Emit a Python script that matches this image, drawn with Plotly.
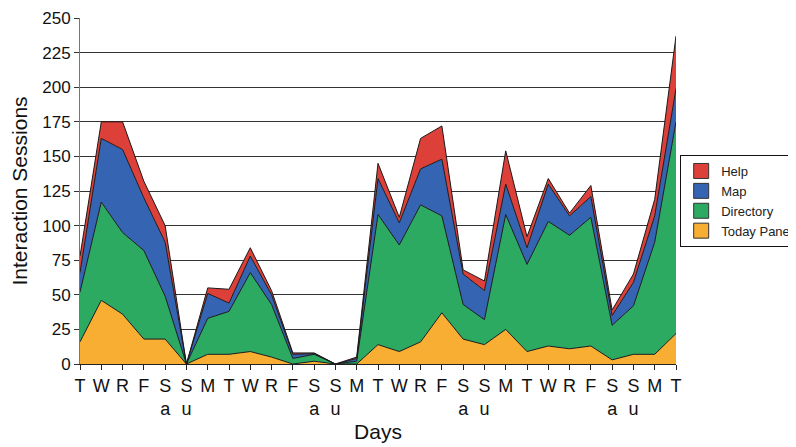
import plotly.graph_objects as go

day_labels = ["T", "W", "R", "F", "S<br>a", "S<br>u", "M", "T", "W", "R", "F", "S<br>a", "S<br>u",
              "M", "T", "W", "R", "F", "S<br>a", "S<br>u", "M", "T", "W", "R", "F", "S<br>a", "S<br>u",
              "M", "T"]
day_index = list(range(len(day_labels)))

today_panel = [16, 46, 36, 18, 18, 0, 7, 7, 9, 5, 0, 2, 0, 0, 14, 9, 16, 37, 18, 14, 25, 9, 13, 11, 13, 3, 7, 7, 22]
directory = [36, 71, 59, 64, 31, 0, 26, 31, 57, 38, 4, 5, 0, 2, 94, 77, 99, 70, 25, 18, 83, 63, 90, 82, 93, 25, 35, 81, 153]
map_use = [14, 46, 60, 38, 39, 0, 18, 6, 12, 7, 3, 0.5, 0, 2, 26, 16, 26, 41, 22, 21, 22, 12, 27, 14, 15, 7, 17, 19, 24]
help_use = [12, 12, 20, 12, 12, 0, 4, 10, 6, 3, 1, 0.5, 0, 1, 11, 4, 22, 24, 3, 7, 24, 8, 4, 2, 8, 4, 6, 12, 38]

series = [
    ("Today Panel", today_panel, "#F8AE33"),
    ("Directory", directory, "#2CAA62"),
    ("Map", map_use, "#3564B2"),
    ("Help", help_use, "#DC4038"),
]

fig = go.Figure()
for name, vals, color in series:
    fig.add_trace(go.Scatter(
        x=day_index, y=vals, name=name, mode="lines", stackgroup="one",
        line=dict(color="#1a1a1a", width=1), fillcolor=color, showlegend=False,
        hoverinfo="skip"))

# legend entries (square swatches)
for name, vals, color in reversed(series):
    fig.add_trace(go.Scatter(
        x=[None], y=[None], name=name, mode="markers",
        marker=dict(symbol="square", size=15, color=color, line=dict(color="#333", width=1)),
        showlegend=True))

fig.update_layout(
    width=796, height=447,
    margin=dict(l=72, r=128, t=10, b=91, autoexpand=False),
    paper_bgcolor="white", plot_bgcolor="white",
    font=dict(family="Liberation Sans, Arial, sans-serif", color="#111"),
    legend=dict(x=1.007, y=0.604, xanchor="left", yanchor="top",
                bordercolor="#111", borderwidth=1, bgcolor="white",
                font=dict(size=13, family="Liberation Sans, Arial, sans-serif", color="#222"),
                traceorder="normal", itemwidth=30, tracegroupgap=0),
    xaxis=dict(range=[0, 28], tickmode="array", tickvals=day_index, ticktext=day_labels,
               showgrid=False, showline=True, linecolor="#222", linewidth=1,
               ticks="outside", ticklen=5, tickcolor="#222", tickfont=dict(size=18),
               zeroline=False,
               title=dict(text="Days", font=dict(size=21), standoff=6)),
    yaxis=dict(range=[0, 250], dtick=25, tick0=0, showgrid=True, gridcolor="#333", gridwidth=1,
               showline=True, linecolor="#777", linewidth=1, zeroline=False,
               ticks="outside", ticklen=5, tickcolor="#333", tickfont=dict(size=17),
               title=dict(text="Interaction Sessions", font=dict(size=21), standoff=10)),
)

fig.write_html("out.html")
